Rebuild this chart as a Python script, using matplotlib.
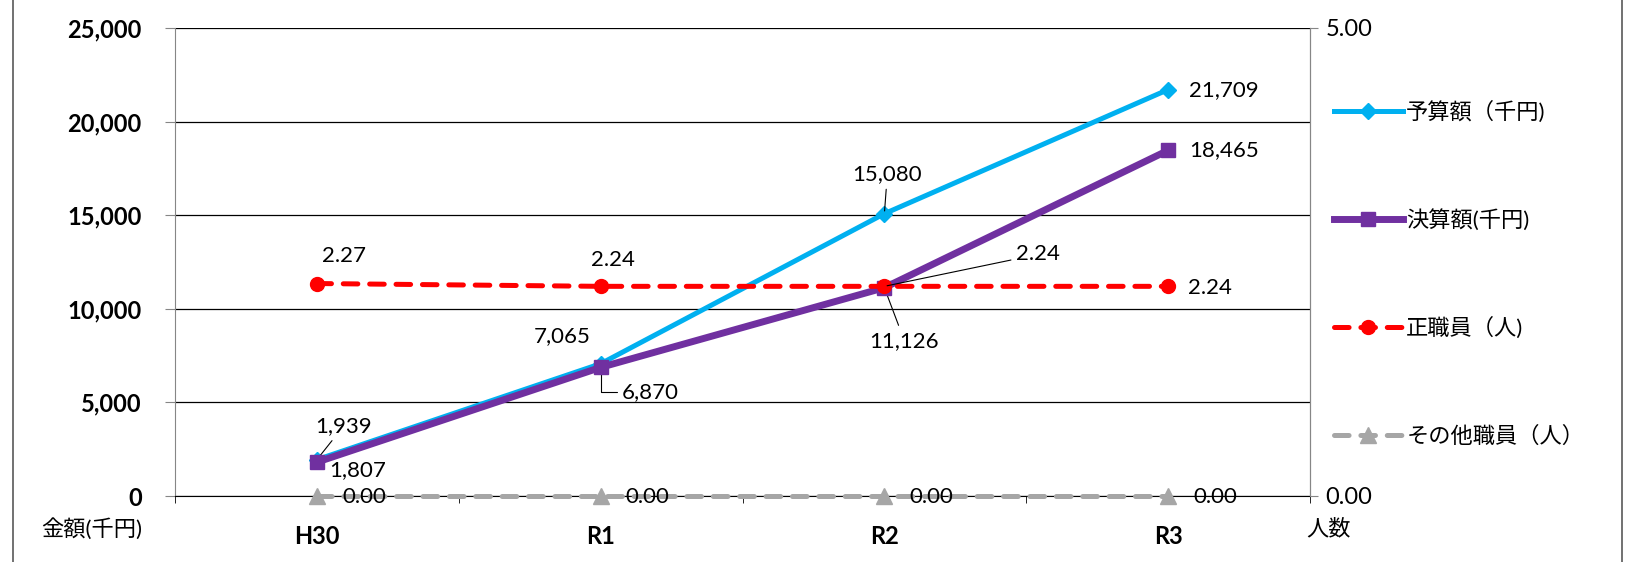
"""Budget / settlement amounts vs staff counts, H30-R3 (dual-axis line chart)."""

import matplotlib

matplotlib.use("Agg")
import matplotlib.pyplot as plt
from matplotlib.lines import Line2D
from matplotlib.ticker import FixedLocator, FuncFormatter

plt.rcParams["font.family"] = ["Lato", "Noto Sans CJK JP", "DejaVu Sans"]
plt.rcParams["lines.scale_dashes"] = False

years = ["H30", "R1", "R2", "R3"]
budget = [1939, 7065, 15080, 21709]  # 予算額（千円)
settled = [1807, 6870, 11126, 18465]  # 決算額(千円)
regular_staff = [2.27, 2.24, 2.24, 2.24]  # 正職員（人)
other_staff = [0.00, 0.00, 0.00, 0.00]  # その他職員（人）

labels = ["予算額（千円)", "決算額(千円)", "正職員（人)", "その他職員（人）"]

CYAN = "#00B0F0"
PURPLE = "#7030A0"
RED = "#FF0000"
GRAY = "#A6A6A6"
SPINE = "#868686"

FS = 16      # data labels
TICK_FS = 17  # axis tick labels

W, H = 1634, 562
fig = plt.figure(figsize=(W / 100, H / 100), dpi=100)
ax = fig.add_axes([175 / W, 1 - 496 / H, (1310 - 175) / W, (496 - 28) / H])
ax2 = ax.twinx()

x = list(range(len(years)))

# left axis: amounts
ax.set_xlim(-0.5, len(years) - 0.5)
ax.set_ylim(0, 25000)
ax.set_yticks(range(0, 25001, 5000))
ax.yaxis.set_major_formatter(FuncFormatter(lambda v, _: f"{v:,.0f}"))
ax.grid(True, axis="y", color="black", linewidth=0.9)
ax.set_axisbelow(True)
ax.tick_params(axis="y", direction="out", length=7, color=SPINE, pad=17, labelsize=TICK_FS)
for t in ax.get_yticklabels():
    t.set_fontweight("bold")
ax.set_xticks(x)
ax.set_xticklabels(years, fontsize=TICK_FS, fontweight="bold")
ax.tick_params(axis="x", which="major", length=0, pad=21)
ax.xaxis.set_minor_locator(FixedLocator([i - 0.5 for i in range(len(years) + 1)]))
ax.tick_params(axis="x", which="minor", direction="out", length=5, color="black")
ax.spines["left"].set_color(SPINE)
ax.spines["right"].set_color(SPINE)
ax.spines["top"].set_visible(False)
ax.spines["bottom"].set_color("black")

# right axis: staff numbers
ax2.set_ylim(0, 5)
ax2.set_yticks([0, 5])
ax2.yaxis.set_major_formatter(FuncFormatter(lambda v, _: f"{v:.2f}"))
ax2.tick_params(axis="y", direction="out", length=6, color=SPINE, pad=5, labelsize=17)
for sp in ax2.spines.values():
    sp.set_visible(False)
ax2.spines["right"].set_visible(True)
ax2.spines["right"].set_color(SPINE)

h1, = ax.plot(x, budget, color=CYAN, linewidth=3.6, marker="D", markersize=8.5,
              label=labels[0], zorder=3)
h2, = ax.plot(x, settled, color=PURPLE, linewidth=5, marker="s", markersize=10,
              label=labels[1], zorder=4)
h3, = ax2.plot(x, regular_staff, color=RED, linewidth=3.6, dashes=(10.5, 8.5),
               dash_capstyle="round", marker="o", markersize=10, label=labels[2], zorder=3)
h4, = ax2.plot(x, other_staff, color=GRAY, linewidth=3.6, dashes=(10.5, 8.5),
               dash_capstyle="round", marker="^", markersize=11, label=labels[3],
               zorder=3, clip_on=False)

lead = dict(arrowstyle="-", color="black", linewidth=0.8, shrinkA=2, shrinkB=2)


def label(axis, i, val, fmt, dx, dy, leader=None, **kw):
    axis.annotate(fmt.format(val), xy=(i, val), xytext=(dx, dy), textcoords="offset pixels",
                  ha="center", va="center", fontsize=FS, arrowprops=leader,
                  annotation_clip=False, **kw)


# 予算額
label(ax, 0, budget[0], "{:,.0f}", 27, 34, lead)
label(ax, 1, budget[1], "{:,.0f}", -38, 28)
label(ax, 2, budget[2], "{:,.0f}", 3, 40, lead)
label(ax, 3, budget[3], "{:,.0f}", 56, 0)
# 決算額
label(ax, 0, settled[0], "{:,.0f}", 41, -8, lead)
label(ax, 1, settled[1], "{:,.0f}", 50, -25,
      dict(lead, connectionstyle="angle,angleA=0,angleB=90,rad=0"))
label(ax, 2, settled[2], "{:,.0f}", 20, -53, lead)
label(ax, 3, settled[3], "{:,.0f}", 56, 0)
# 正職員
label(ax2, 0, regular_staff[0], "{:.2f}", 27, 28)
label(ax2, 1, regular_staff[1], "{:.2f}", 12, 26)
label(ax2, 2, regular_staff[2], "{:.2f}", 154, 32, lead)
label(ax2, 3, regular_staff[3], "{:.2f}", 42, -2)
# その他職員
for i, v in enumerate(other_staff):
    label(ax2, i, v, "{:.2f}", 47, -1)

ax2.legend(handles=[h1, h2, h3, h4], loc="upper left", bbox_to_anchor=(1334 / W, 1 - 101 / H),
           bbox_transform=fig.transFigure, frameon=False, fontsize=16, handlelength=3.1,
           handletextpad=0.15, labelspacing=3.87, borderpad=0, borderaxespad=0, numpoints=1)

fig.text(92 / W, 1 - 529 / H, "金額(千円)", ha="center", va="center", fontsize=16)
fig.text(1329 / W, 1 - 529 / H, "人数", ha="center", va="center", fontsize=16)

# outer frame (left / right edges)
for fx in (13 / W, 1622 / W):
    fig.add_artist(Line2D([fx, fx], [0, 1], transform=fig.transFigure, color="#595959",
                          linewidth=1.2))

fig.savefig("out.png", dpi=100)
